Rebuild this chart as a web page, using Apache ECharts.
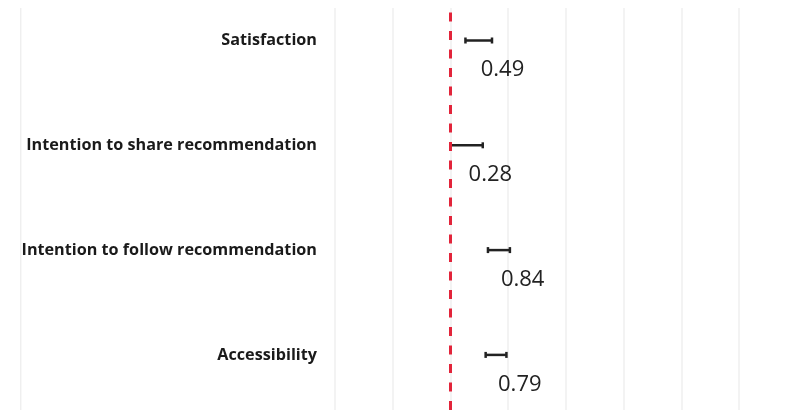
<!DOCTYPE html>
<html>
<head>
<meta charset="utf-8">
<script src="https://cdn.jsdelivr.net/npm/echarts@6/dist/echarts.min.js"></script>
<style>html,body{margin:0;padding:0;background:#fff;}#c{width:787px;height:410px;}</style>
</head>
<body>
<div id="c"></div>
<script>
// Data
var categories = ['Satisfaction', 'Intention to share recommendation', 'Intention to follow recommendation', 'Accessibility'];
var estimates = [0.49, 0.28, 0.84, 0.79];
var lowerCI = [0.26, 0.00, 0.65, 0.61];
var upperCI = [0.72, 0.56, 1.03, 0.97];
var xMin = -2, xMax = 6, xStep = 1, refValue = 0;

var chart = echarts.init(document.getElementById('c'), null, {renderer: 'canvas'});
var rows = categories.map(function (c, i) { return [estimates[i], i, lowerCI[i], upperCI[i]]; });

var xCommon = {type: 'value', min: xMin, max: xMax, interval: xStep, axisLabel: {show: false}, axisTick: {show: false}, axisLine: {show: false}};

chart.setOption({
  animation: false,
  backgroundColor: '#ffffff',
  grid: [
    {left: 335, width: 461.75, top: 8, bottom: 0, outerBoundsMode: 'none', containLabel: false},
    {left: 335, width: 461.75, top: -11.9, height: 419.2, outerBoundsMode: 'none', containLabel: false}
  ],
  xAxis: [
    Object.assign({gridIndex: 0, splitLine: {show: true, lineStyle: {color: '#efefef', width: 1.5}}}, xCommon),
    Object.assign({gridIndex: 1, splitLine: {show: false}}, xCommon)
  ],
  yAxis: [
    {gridIndex: 0, type: 'value', show: false},
    {gridIndex: 1, type: 'category', inverse: true, data: categories,
     axisLine: {show: false}, axisTick: {show: false}, splitLine: {show: false},
     axisLabel: {margin: 18, fontFamily: 'Open Sans', fontWeight: 'bold', fontSize: 16.2, color: '#1a1a1a'}}
  ],
  graphic: [{type: 'line', shape: {x1: 20.7, y1: 8, x2: 20.7, y2: 410}, style: {stroke: '#efefef', lineWidth: 1.5}, silent: true}],
  series: [
    {type: 'line', xAxisIndex: 0, yAxisIndex: 0, data: [], silent: true,
     markLine: {silent: true, symbol: 'none', label: {show: false},
       lineStyle: {color: '#e2243a', width: 3, type: [9, 9.5]},
       data: [{xAxis: refValue}]}},
    {type: 'custom', xAxisIndex: 1, yAxisIndex: 1, data: rows,
     renderItem: function (params, api) {
       var y = api.value(1);
       var lo = api.coord([api.value(2), y]);
       var hi = api.coord([api.value(3), y]);
       var pt = api.coord([api.value(0), y]);
       var cap = 3;
       var st = {stroke: '#222222', lineWidth: 2.5};
       return {type: 'group', children: [
         {type: 'line', shape: {x1: lo[0], y1: lo[1], x2: hi[0], y2: hi[1]}, style: st},
         {type: 'line', shape: {x1: lo[0], y1: lo[1] - cap, x2: lo[0], y2: lo[1] + cap}, style: st},
         {type: 'line', shape: {x1: hi[0], y1: hi[1] - cap, x2: hi[0], y2: hi[1] + cap}, style: st},
         {type: 'text', x: pt[0] + 2, y: pt[1] + 29.5, style: {text: api.value(0).toFixed(2), fontFamily: 'Open Sans', fontSize: 22, fill: '#222222', align: 'left', verticalAlign: 'middle'}}
       ]};
     }}
  ]
});
</script>
</body>
</html>
